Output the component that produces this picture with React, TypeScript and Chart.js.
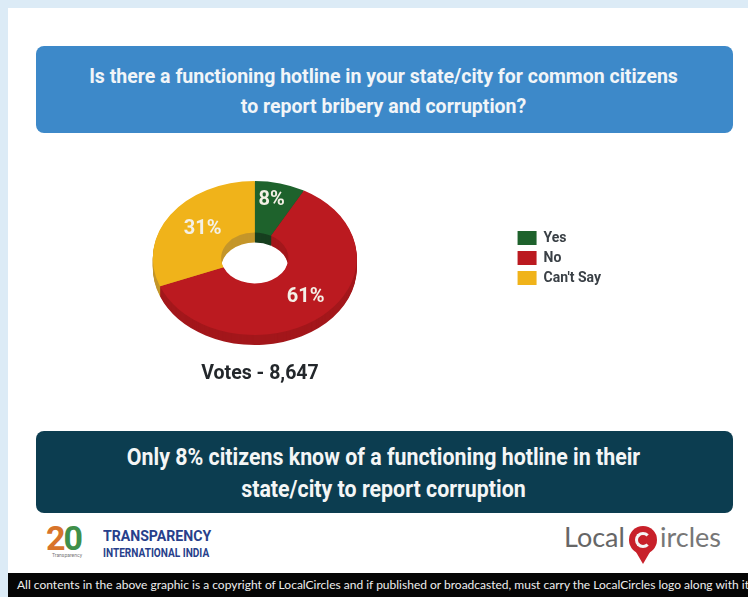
import React, { useEffect, useRef } from "react";
import { Chart, registerables } from "chart.js";

Chart.register(...registerables);

const categories = ["Yes", "No", "Can't Say"];
const shares = [8, 61, 31];
const sliceColors = ["#1e622c", "#bb1a20", "#f0b31a"];
const sideColors = ["#173f1f", "#a3171b", "#c4962a"];
const titleLines = [
  "Is there a functioning hotline in your state/city for common citizens",
  "to report bribery and corruption?",
];
const headlineLines = [
  "Only 8% citizens know of a functioning hotline in their",
  "state/city to report corruption",
];
const votesLabel = "Votes - 8,647";
const footerText =
  "All contents in the above graphic is a copyright of LocalCircles and if published or broadcasted, must carry the LocalCircles logo along with it";

const SQUASH = 0.755;
const DEPTH = 10;
const LABEL_NUDGE_X = [0, 6, 4];
const LABEL_NUDGE_Y = [-8, 1, 0];

const tiltPlugin = {
  id: "tilt",
  beforeDatasetDraw(chart: any) {
    const ctx = chart.ctx;
    const arcs = chart.getDatasetMeta(0).data;
    const cy = arcs[0].y;
    const apply = (offset: number) => {
      ctx.translate(0, cy + offset);
      ctx.scale(1, SQUASH);
      ctx.translate(0, -cy);
    };
    for (let d = DEPTH; d >= 1; d--) {
      ctx.save();
      apply(d);
      arcs.forEach((a: any, i: number) => {
        ctx.beginPath();
        ctx.arc(a.x, a.y, a.outerRadius, a.startAngle, a.endAngle);
        ctx.arc(a.x, a.y, a.innerRadius, a.endAngle, a.startAngle, true);
        ctx.closePath();
        ctx.fillStyle = sideColors[i];
        ctx.fill();
      });
      ctx.restore();
    }
    ctx.save();
    apply(0);
  },
  afterDatasetDraw(chart: any) {
    const ctx = chart.ctx;
    ctx.restore();
    const arcs = chart.getDatasetMeta(0).data;
    ctx.save();
    ctx.font = "700 20px Roboto";
    ctx.fillStyle = "#f4f0e6";
    ctx.textAlign = "center";
    ctx.textBaseline = "middle";
    arcs.forEach((a: any, i: number) => {
      const p = a.tooltipPosition();
      const x = p.x + LABEL_NUDGE_X[i];
      const y = a.y + (p.y - a.y) * SQUASH + LABEL_NUDGE_Y[i];
      ctx.fillText(`${shares[i]}%`, x, y);
    });
    ctx.restore();
  },
};

function Line({ text, top, size, color, sx, left = 35, width = 697 }: any) {
  return (
    <div
      style={{
        position: "absolute",
        left,
        width,
        top,
        textAlign: "center",
        color,
        font: `700 ${size}px/1 Roboto`,
        whiteSpace: "nowrap",
        transform: `scaleX(${sx})`,
      }}
    >
      {text}
    </div>
  );
}

export default function App() {
  const ref = useRef<HTMLCanvasElement>(null);
  useEffect(() => {
    const chart = new Chart(ref.current!, {
      type: "doughnut",
      data: {
        labels: categories,
        datasets: [
          {
            data: shares,
            backgroundColor: sliceColors,
            borderWidth: 0,
          },
        ],
      },
      options: {
        animation: false,
        responsive: false,
        radius: 102,
        cutout: "33%",
        layout: { padding: 0 },
        plugins: {
          tooltip: { enabled: false },
          legend: {
            position: "right",
            align: "center",
            labels: {
              boxWidth: 19,
              boxHeight: 14,
              padding: 6,
              color: "#3a4046",
              font: { family: "Roboto", weight: "bold", size: 14 },
            },
          },
        },
      },
      plugins: [tiltPlugin],
    } as any);
    return () => chart.destroy();
  }, []);

  return (
    <div
      style={{
        position: "absolute",
        left: 0,
        top: 0,
        width: 748,
        height: 597,
        overflow: "hidden",
        background: "#dcebf6",
        filter: "blur(0.4px)",
      }}
    >
      <div style={{ position: "absolute", left: 8, top: 8, width: 740, height: 589, background: "#fff" }} />
      <div style={{ position: "absolute", left: 36, top: 46, width: 697, height: 87, background: "#3d89c9", borderRadius: 8 }} />
      <Line text={titleLines[0]} top={66} size={20} color="#f1f5f8" sx={0.975} />
      <Line text={titleLines[1]} top={96} size={20} color="#f1f5f8" sx={0.975} />
      <canvas
        ref={ref}
        width={613}
        height={316}
        style={{ position: "absolute", left: -2, top: 100, width: 613, height: 316 }}
      />
      <Line text={votesLabel} top={362} size={21} color="#23272b" sx={0.93} left={100} width={320} />
      <div style={{ position: "absolute", left: 36, top: 431, width: 697, height: 82, background: "#0c3d50", borderRadius: 8 }} />
      <Line text={headlineLines[0]} top={445} size={24} color="#f4f6f6" sx={0.89} />
      <Line text={headlineLines[1]} top={477} size={24} color="#f4f6f6" sx={0.89} />

      {/* partner marks */}
      <div style={{ position: "absolute", left: 46, top: 521, font: "700 34px/1 Roboto", letterSpacing: -2 }}>
        <span style={{ color: "#d8742a" }}>2</span>
        <span style={{ color: "#3f8f4a" }}>0</span>
      </div>
      <div style={{ position: "absolute", left: 38, top: 552, width: 58, textAlign: "center", font: "400 5px/6px Roboto", color: "#777" }}>
        Transparency
      </div>
      <div style={{ position: "absolute", left: 103, top: 529, font: "700 15px/1 Roboto", color: "#27408b", transform: "scaleX(0.94)", transformOrigin: "left", whiteSpace: "nowrap" }}>
        TRANSPARENCY
      </div>
      <div style={{ position: "absolute", left: 103, top: 547, font: "700 12px/1 Roboto", color: "#27408b", transform: "scaleX(0.84)", transformOrigin: "left", whiteSpace: "nowrap" }}>
        INTERNATIONAL INDIA
      </div>
      <div style={{ position: "absolute", left: 564, top: 523, font: "400 27px/1 Lato", color: "#666" }}>Local</div>
      <div style={{ position: "absolute", left: 660, top: 523, font: "400 27px/1 Lato", color: "#777" }}>ircles</div>
      <div style={{ position: "absolute", left: 629, top: 526, width: 28, height: 28, borderRadius: "50%", background: "#c8202a" }} />
      <div style={{ position: "absolute", left: 636, top: 552, width: 0, height: 0, borderLeft: "7px solid transparent", borderRight: "7px solid transparent", borderTop: "12px solid #c8202a" }} />
      <div style={{ position: "absolute", left: 635, top: 532, width: 16, height: 16, borderRadius: "50%", border: "3px solid #f5f5f5", borderRightColor: "transparent", boxSizing: "border-box" }} />

      <div style={{ position: "absolute", left: 8, top: 573, width: 740, height: 24, background: "#050505", overflow: "hidden" }}>
        <div style={{ position: "absolute", left: 9, top: 6, font: "400 12px/1 Lato", color: "#eeeeee", whiteSpace: "nowrap" }}>
          {footerText}
        </div>
      </div>
    </div>
  );
}
